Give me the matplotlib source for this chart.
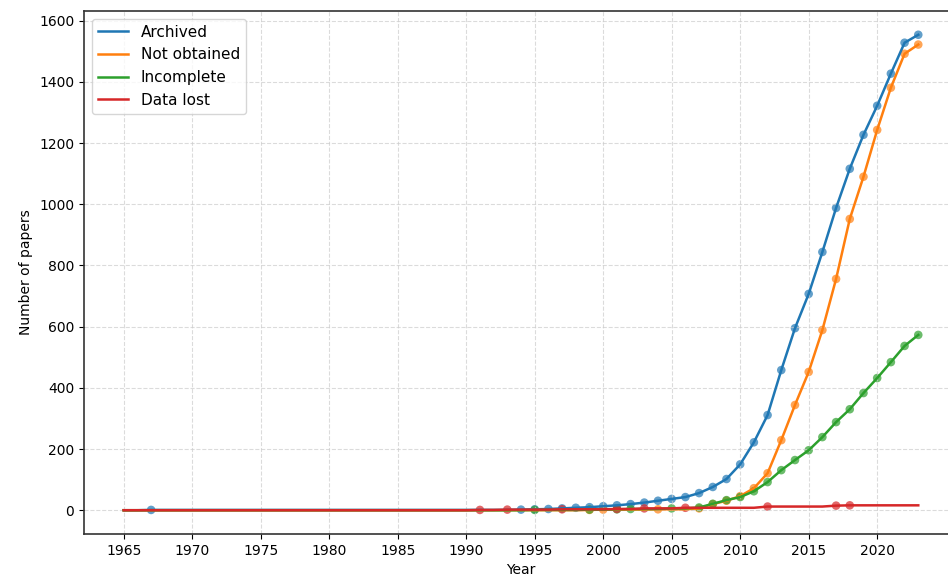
import matplotlib
matplotlib.use("Agg")
import matplotlib.pyplot as plt
import pandas as pd

years_all = list(range(1965, 2024))

archived_years = [1967, 1994, 1995, 1996, 1997, 1998, 1999, 2000, 2001, 2002, 2003,
                  2004, 2005, 2006, 2007, 2008, 2009, 2010, 2011, 2012, 2013, 2014,
                  2015, 2016, 2017, 2018, 2019, 2020, 2021, 2022, 2023]
archived_vals = [1, 2, 3, 4, 6, 8, 10, 13, 16, 20, 25,
                 31, 37, 43, 56, 76, 102, 150, 222, 311, 458, 595,
                 707, 844, 988, 1116, 1227, 1322, 1427, 1528, 1554]

notobt_years = [1999, 2000, 2004, 2007, 2008, 2009, 2010, 2011, 2012, 2013, 2014,
                2015, 2016, 2017, 2018, 2019, 2020, 2021, 2022, 2023]
notobt_vals = [1, 2, 3, 6, 20, 31, 46, 72, 121, 229, 344,
               452, 589, 756, 952, 1090, 1243, 1381, 1492, 1522]

incomplete_years = [1995, 1999, 2001, 2002, 2005, 2007, 2008, 2009, 2010, 2011, 2012,
                    2013, 2014, 2015, 2016, 2017, 2018, 2019, 2020, 2021, 2022, 2023]
incomplete_vals = [1, 2, 3, 4, 6, 9, 21, 33, 43, 62, 92,
                   131, 164, 196, 239, 288, 330, 383, 432, 484, 537, 573]

lost_years = [1991, 1993, 1997, 2001, 2003, 2006, 2012, 2017, 2018]
lost_vals = [1, 2, 3, 4, 6, 8, 12, 15, 16]

series = [
    ("Archived", archived_years, archived_vals, "tab:blue"),
    ("Not obtained", notobt_years, notobt_vals, "tab:orange"),
    ("Incomplete", incomplete_years, incomplete_vals, "tab:green"),
    ("Data lost", lost_years, lost_vals, "tab:red"),
]

fig = plt.figure(figsize=(9.48, 5.78), dpi=100)
# axes runs a bit past the right edge, as in the reference crop
ax = fig.add_axes([84 / 948, 44 / 578, 874 / 948, 523 / 578])

for name, yrs, vals, col in series:
    s = pd.Series(vals, index=yrs).reindex(years_all).ffill().fillna(0)
    ax.plot(s.index, s.values, color=col, lw=1.8, label=name)
    ax.scatter(yrs, vals, color=col, s=38, alpha=0.7, edgecolors="none")

ax.set_xticks(range(1965, 2021, 5))
ax.set_xlabel("Year")
ax.set_ylabel("Number of papers")
ax.grid(True, linestyle="--", color="#cccccc", alpha=0.7)
for sp in ax.spines.values():
    sp.set_color("#333333")
    sp.set_linewidth(1.2)
ax.legend(loc="upper left", fontsize=11)

fig.savefig("out.png", dpi=100)
